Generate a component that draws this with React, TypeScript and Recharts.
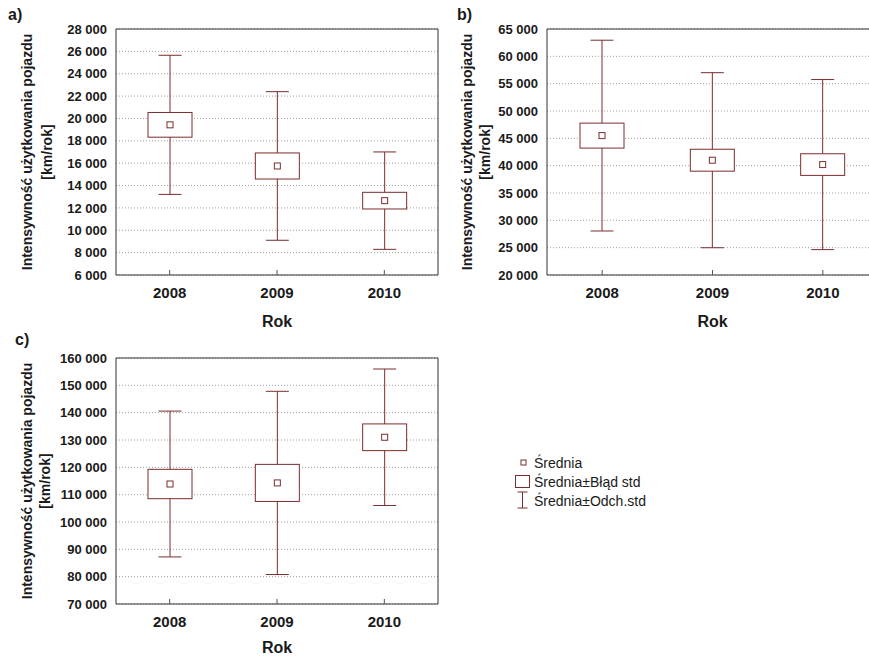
import React from 'react';
import { ComposedChart, Bar, XAxis, YAxis, CartesianGrid, ReferenceArea } from 'recharts';

const years = ['2008', '2009', '2010'];

// a)
const meanA = [19430, 15750, 12650];
const seA = [1105, 1165, 745];
const sdA = [6220, 6645, 4355];
const ticksA = [6000, 8000, 10000, 12000, 14000, 16000, 18000, 20000, 22000, 24000, 26000, 28000];

// b)
const meanB = [45500, 41000, 40200];
const seB = [2285, 2005, 1980];
const sdB = [17450, 16010, 15555];
const ticksB = [20000, 25000, 30000, 35000, 40000, 45000, 50000, 55000, 60000, 65000];

// c)
const meanC = [113900, 114300, 131000];
const seC = [5375, 6785, 4885];
const sdC = [26680, 33515, 24970];
const ticksC = [70000, 80000, 90000, 100000, 110000, 120000, 130000, 140000, 150000, 160000];

const yLabel = 'Intensywność użytkowania pojazdu';
const yUnit = '[km/rok]';
const xLabel = 'Rok';
const legendItems = ['Średnia', 'Średnia±Błąd std', 'Średnia±Odch.std'];

const RED = '#7b2d2d';
const FONT = '"Liberation Sans", Arial, sans-serif';

const fmt = (v: number) => String(v).replace(/\B(?=(\d{3})+(?!\d))/g, ' ');

const BoxShape = (props: any) => {
  const { x, y, width, height, payload } = props;
  const lo = payload.mean - payload.sd;
  const hi = payload.mean + payload.sd;
  const py = (v: number) => y + ((hi - v) / (hi - lo)) * height;
  const cx = x + width / 2;
  const cap = 11.5;
  const boxTop = py(payload.mean + payload.se);
  const boxBot = py(payload.mean - payload.se);
  const my = py(payload.mean);
  return (
    <g>
      <line x1={cx} x2={cx} y1={py(hi)} y2={py(lo)} stroke={RED} />
      <line x1={cx - cap} x2={cx + cap} y1={py(hi)} y2={py(hi)} stroke={RED} />
      <line x1={cx - cap} x2={cx + cap} y1={py(lo)} y2={py(lo)} stroke={RED} />
      <rect x={x} y={boxTop} width={width} height={boxBot - boxTop} fill="#fff" stroke={RED} />
      <rect x={cx - 3} y={my - 3} width={6} height={6} fill="#fff" stroke={RED} />
    </g>
  );
};

interface PanelProps {
  left: number;
  top: number;
  width: number;
  mean: number[];
  se: number[];
  sd: number[];
  ticks: number[];
  l1: number;
  l2: number;
  rokOffset: number;
}

const Panel: React.FC<PanelProps> = ({ left, top, width, mean, se, sd, ticks, l1, l2, rokOffset }) => {
  const data = years.map((year, i) => ({ year, mean: mean[i], se: se[i], sd: sd[i] }));
  const lo = ticks[0];
  const hi = ticks[ticks.length - 1];
  return (
    <div style={{ position: 'absolute', left, top }}>
      <ComposedChart width={width} height={336} data={data} margin={{ top: 29, right: 7, bottom: 8, left: 0 }}>
        <CartesianGrid vertical={false} stroke="#a0a0a0" strokeDasharray="1 2" />
        <XAxis
          dataKey="year"
          height={53}
          axisLine={false}
          tickLine={{ stroke: '#555' }}
          tickSize={-5}
          tickMargin={17}
          tick={{ fontSize: 15, fontWeight: 'bold', fill: '#1a1a1a', fontFamily: FONT }}
          label={{ value: xLabel, position: 'insideBottom', offset: rokOffset, fontSize: 16, fontWeight: 'bold', fill: '#1a1a1a', fontFamily: FONT }}
        />
        <XAxis
          xAxisId="top"
          dataKey="year"
          orientation="top"
          height={0}
          axisLine={false}
          tickLine={{ stroke: '#555' }}
          tickSize={-5}
          tickFormatter={() => ''}
        />
        <YAxis
          type="number"
          width={116}
          domain={[lo, hi]}
          ticks={ticks}
          interval={0}
          axisLine={false}
          tickLine={false}
          tickSize={0}
          tickMargin={9}
          tickFormatter={fmt}
          tick={{ fontSize: 13, fontWeight: 'bold', fill: '#1a1a1a', fontFamily: FONT }}
          label={{
            content: (p: any) => {
              const vb = p.viewBox;
              const cy = vb.y + vb.height / 2;
              return (
                <g fontFamily={FONT} fontWeight="bold" fontSize={14} fill="#1a1a1a">
                  <text x={l1} y={cy} textAnchor="middle" dominantBaseline="central" transform={`rotate(-90 ${l1} ${cy})`}>
                    {yLabel}
                  </text>
                  <text x={l2} y={cy} textAnchor="middle" dominantBaseline="central" transform={`rotate(-90 ${l2} ${cy})`}>
                    {yUnit}
                  </text>
                </g>
              );
            },
          }}
        />
        <ReferenceArea y1={lo} y2={hi} fill="none" stroke="#333" strokeWidth={1} ifOverflow="visible" />
        <Bar
          dataKey={(d: any) => [d.mean - d.sd, d.mean + d.sd]}
          barSize={44}
          shape={BoxShape}
          isAnimationActive={false}
        />
      </ComposedChart>
    </div>
  );
};

export default function App() {
  return (
    <div style={{ position: 'absolute', left: 0, top: 0, width: 869, height: 657, overflow: 'hidden', background: '#fff' }}>
      <Panel left={0} top={0} width={445} mean={meanA} se={seA} sd={sdA} ticks={ticksA} l1={27} l2={47} rokOffset={1} />
      <Panel left={431} top={0} width={454} mean={meanB} se={seB} sd={sdB} ticks={ticksB} l1={36} l2={54} rokOffset={1} />
      <Panel left={0} top={329} width={445} mean={meanC} se={seC} sd={sdC} ticks={ticksC} l1={27} l2={45} rokOffset={4} />
      <svg width={869} height={657} style={{ position: 'absolute', left: 0, top: 0, pointerEvents: 'none' }}>
        <g fontFamily={FONT} fontWeight="bold" fontSize={16} fill="#1a1a1a">
          <text x={8} y={20}>a)</text>
          <text x={457} y={20}>b)</text>
          <text x={15} y={345}>c)</text>
        </g>
        <rect x={521} y={460} width={5} height={5} fill="#fff" stroke={RED} />
        <rect x={515.5} y={475.5} width={14} height={12} fill="#fff" stroke={RED} />
        <line x1={522.5} x2={522.5} y1={492} y2={508} stroke={RED} />
        <line x1={517.5} x2={527.5} y1={492} y2={492} stroke={RED} />
        <line x1={517.5} x2={527.5} y1={508} y2={508} stroke={RED} />
        <g fontFamily={FONT} fontSize={14} fill="#1a1a1a">
          {legendItems.map((t, i) => (
            <text key={t} x={534} y={468 + i * 19}>
              {t}
            </text>
          ))}
        </g>
      </svg>
    </div>
  );
}
